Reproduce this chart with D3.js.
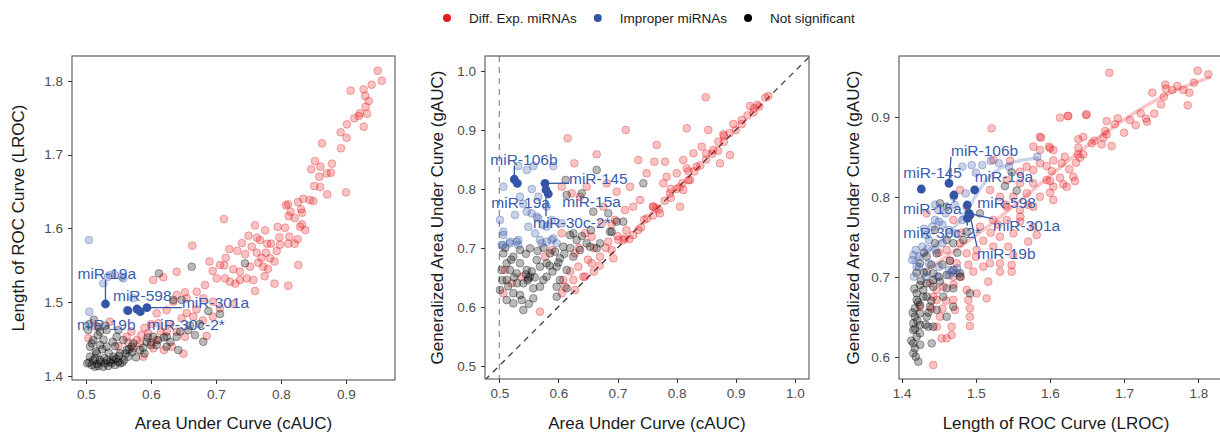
<!DOCTYPE html>
<html lang="en">
<head>
<meta charset="UTF-8">
<title>miRNA ROC metrics</title>
<style>
    body { margin: 0; background: #fff; }
    svg text { font-family: "Liberation Sans", Arial, Helvetica, sans-serif; }
    .axis line { stroke: #333; shape-rendering: crispEdges; }
    .axis text { font-size: 13.5px; fill: #4d4d4d; }
</style>
</head>
<body>
<script src="https://cdn.jsdelivr.net/npm/d3@7"></script>
<script>
// ---- data ----
var legendLabels = ['Diff. Exp. miRNAs', 'Improper miRNAs', 'Not significant']

// panel 1: cAUC (x) vs LROC (y)
var p1Red = [[0.9488,1.8138],[0.955,1.8003],[0.9072,1.7867],[0.9272,1.7886],[0.9395,1.7948],[0.9297,1.7795],[0.9349,1.7727],[0.9303,1.765],[0.9215,1.756],[0.9323,1.7555],[0.9128,1.7493],[0.9195,1.7524],[0.9015,1.7411],[0.9272,1.7379],[0.8918,1.7303],[0.901,1.7229],[0.8631,1.7153],[0.8923,1.7086],[0.8523,1.6913],[0.8785,1.6877],[0.8605,1.6836],[0.8466,1.6801],[0.8703,1.6746],[0.8769,1.6754],[0.8589,1.67],[0.8512,1.6574],[0.8605,1.656],[0.8712,1.6461],[0.9,1.6488],[0.8446,1.6384],[0.8497,1.637],[0.8343,1.6402],[0.8262,1.6357],[0.8108,1.6326],[0.8077,1.6312],[0.8149,1.6225],[0.8308,1.6258],[0.8323,1.6212],[0.8211,1.614],[0.8118,1.6167],[0.76,1.6041],[0.7758,1.5973],[0.7949,1.6018],[0.8062,1.6008],[0.8292,1.6022],[0.8374,1.5977],[0.8323,1.6054],[0.8128,1.5886],[0.7974,1.5878],[0.8257,1.5851],[0.7631,1.5872],[0.7677,1.5841],[0.7789,1.5791],[0.7846,1.5791],[0.7985,1.5777],[0.8112,1.5791],[0.8211,1.5791],[0.7626,1.5669],[0.7769,1.5669],[0.7934,1.5692],
    [0.7123,1.6126],[0.6635,1.5764],[0.7205,1.5719],[0.7328,1.5696],[0.7062,1.5502],[0.7128,1.5498],[0.7266,1.5444],[0.6949,1.5421],[0.7369,1.5411],[0.7523,1.5479],[0.765,1.5533],[0.7728,1.5479],[0.7831,1.5593],[0.8266,1.5502],[0.8112,1.5221],[0.7574,1.5299],[0.7472,1.5321],[0.7369,1.5299],[0.7215,1.5276],[0.7138,1.5321],[0.7011,1.5321],[0.6831,1.5231],[0.6703,1.514],[0.6523,1.5132],[0.6395,1.5095],[0.6343,1.5004],[0.6549,1.505],[0.6805,1.505],[0.6958,1.5004],[0.7062,1.4914],[0.7266,1.4973],[0.6241,1.4891],[0.6087,1.4847],[0.6035,1.5299],[0.619,1.5335],[0.6395,1.5411],[0.6472,1.4779],[0.6651,1.4801],[0.6857,1.4539],[0.6318,1.4394],[0.5882,1.4258],[0.5035,1.4507],[0.5165,1.4665],[0.5369,1.4733],[0.5626,1.4529],[0.5779,1.4484],[0.5958,1.4575],[0.6087,1.4484],[0.6241,1.4597],[0.6523,1.4529],[0.6035,1.4372],[0.5728,1.4372],[0.6395,1.4597],[0.5831,1.444],[0.6112,1.4711],
    [0.745,1.565],[0.755,1.575],[0.74,1.58],[0.77,1.56],[0.78,1.545],[0.79,1.555],[0.75,1.59],[0.69,1.555],[0.715,1.56],[0.73,1.525],[0.76,1.515],[0.775,1.535],[0.79,1.525],
    [0.57,1.46],[0.59,1.465],[0.6,1.47],[0.615,1.46],[0.63,1.47],[0.655,1.485],[0.67,1.49],[0.68,1.475],[0.695,1.48],[0.6,1.445],[0.62,1.435],[0.585,1.455],[0.55,1.44],[0.565,1.445],[0.65,1.43]]
var p1Blue = [[0.5046,1.5841],[0.5051,1.4869],[0.5266,1.5254],[0.5369,1.5366],[0.5446,1.5366],[0.5574,1.5321],[0.5728,1.505],[0.5338,1.5343],[0.5554,1.5343],[0.5631,1.4891]]
var p1Black = [[0.6123,1.5389],[0.6626,1.5479],[0.7446,1.5525],[0.6472,1.5027],[0.6343,1.5027],[0.7062,1.4837],[0.6882,1.4878],[0.6805,1.4461],[0.6677,1.4552],[0.6574,1.462],[0.6395,1.4529],[0.642,1.4349],[0.6241,1.4529],[0.6112,1.4484],[0.6,1.4417],[0.5831,1.4349],[0.5703,1.4394],[0.5626,1.4349],[0.5523,1.4304],[0.542,1.4258],[0.5369,1.419],[0.5292,1.4168],[0.5215,1.4213],[0.5138,1.4236],[0.5062,1.4258],[0.502,1.4168],[0.5088,1.4145],[0.519,1.4132],[0.5266,1.4122],[0.5343,1.4132],[0.5446,1.4145],[0.5523,1.4168],[0.5585,1.4213],[0.542,1.4213],[0.5165,1.4304],[0.5062,1.4394],[0.5215,1.4417],[0.5318,1.4394],[0.5112,1.4484],[0.5215,1.4597],[0.519,1.4665],[0.5035,1.462],[0.5318,1.462],[0.5472,1.4529],[0.5574,1.4484],[0.5728,1.444],[0.5933,1.4461],[0.6087,1.4417],[0.6035,1.4529],[0.6241,1.4394],[0.5138,1.4122],[0.5497,1.419],[0.5651,1.4258],
    [0.505,1.418],[0.511,1.421],[0.517,1.416],[0.523,1.419],[0.528,1.424],[0.533,1.421],[0.539,1.417],[0.546,1.423],[0.551,1.427],[0.556,1.418],[0.561,1.43],[0.566,1.436],[0.571,1.432],[0.515,1.433],[0.525,1.436],[0.535,1.431],[0.545,1.44],[0.509,1.444],[0.527,1.449],[0.541,1.446],[0.588,1.438],[0.595,1.452],[0.62,1.452],[0.63,1.446],[0.645,1.46],[0.66,1.468],[0.675,1.47],[0.59,1.43],[0.577,1.425],[0.518,1.455],[0.55,1.462],[0.505,1.47],[0.512,1.476],[0.53,1.468]]
var p1Named = [{name:'miR-19a',x:0.53,y:1.4973},{name:'miR-598',x:0.5785,y:1.4905},{name:'miR-301a',x:0.5938,y:1.4923},{name:'miR-19b',x:0.5646,y:1.4882},{name:'miR-30c-2*',x:0.5836,y:1.4869}]

// panel 2: cAUC (x) vs gAUC (y)
var p2Red = [[0.8492,0.9557],[0.9552,0.9579],[0.931,0.937],[0.9242,0.941],[0.9366,0.9426],[0.9102,0.9171],[0.8959,0.9104],[0.879,0.8929],[0.8536,0.9002],[0.8171,0.9031],[0.7139,0.9002],[0.6157,0.8861],[0.6648,0.8589],[0.6269,0.8436],[0.7352,0.8492],[0.7663,0.8747],[0.7623,0.8464],[0.7804,0.8464],[0.8113,0.8492],[0.8283,0.8606],[0.8425,0.8718],[0.8621,0.8662],[0.8706,0.8803],[0.8171,0.8351],[0.8002,0.8267],[0.7832,0.8209],[0.7494,0.8267],[0.7212,0.8039],[0.6986,0.7954],[0.6817,0.8097],[0.6479,0.8039],[0.6365,0.7869],[0.676,0.77],[0.7267,0.77],[0.7381,0.7813],[0.7775,0.8097],[0.7888,0.7927],[0.8113,0.7983],[0.8227,0.8153],[0.8058,0.77],[0.7719,0.7587],[0.7606,0.77],[0.834,0.8379],[0.8734,0.8436],[0.8904,0.8577],
    [0.72,0.715],[0.74,0.735],[0.75,0.75],[0.76,0.755],[0.77,0.765],[0.78,0.78],[0.79,0.785],[0.8,0.8],[0.81,0.81],[0.82,0.815],[0.83,0.83],[0.84,0.84],[0.85,0.85],[0.86,0.86],[0.87,0.865],[0.88,0.88],[0.9,0.9],[0.91,0.91],[0.93,0.93],[0.94,0.94],[0.95,0.955],[0.76,0.77],[0.79,0.8],[0.82,0.83],[0.85,0.86],[0.88,0.89],[0.92,0.925],[0.89,0.895],[0.745,0.748],[0.765,0.768],[0.805,0.803],
    [0.6056,0.8039],[0.6225,0.7927],[0.7127,0.7643],[0.6958,0.7474],[0.6733,0.7418],[0.645,0.7248],[0.6563,0.719],[0.7127,0.7163],[0.7014,0.7134],[0.7352,0.7304],[0.6902,0.6964],[0.6704,0.6851],[0.6563,0.6739],[0.6337,0.6681],[0.645,0.6511],[0.6252,0.6455],[0.6112,0.6341],[0.6056,0.6229],[0.5887,0.6964],[0.5773,0.6851],[0.6281,0.6908],[0.5096,0.6625],[0.521,0.6399],[0.5379,0.6511],[0.5689,0.5917],[0.5068,0.623],[0.6281,0.6285],[0.6421,0.6511],[0.6083,0.6455],[0.6929,0.6823],[0.6844,0.7105],[0.7098,0.7134],[0.7267,0.7219],[0.6056,0.7248],
    [0.66,0.7],[0.68,0.7],[0.7,0.72],[0.715,0.73],[0.69,0.74],[0.62,0.66],[0.635,0.7],[0.65,0.68],[0.67,0.67],[0.66,0.66]]
var p2Blue = [[0.5322,0.839],[0.5575,0.839],[0.5914,0.839],[0.5464,0.8323],[0.5068,0.8039],[0.535,0.7869],[0.5266,0.7559],[0.5012,0.7474],[0.566,0.7869],[0.5802,0.77],[0.5745,0.7389],[0.5633,0.753],[0.5491,0.736],[0.5068,0.7275],[0.5181,0.7105],[0.5322,0.7134],[0.5604,0.7248],[0.5689,0.7134],[0.5802,0.736],[0.5887,0.7134],[0.5971,0.7078],[0.566,0.7503],[0.5887,0.7474],[0.6056,0.7418],[0.5464,0.7615],[0.5322,0.7049],[0.5068,0.7049],[0.504,0.7049],[0.5181,0.7078],[0.5294,0.7105],[0.5717,0.7078],[0.5802,0.7105],[0.5914,0.7163],[0.5068,0.7219],[0.54,0.775],[0.555,0.8],[0.5548,0.7587]]
var p2Black = [[0.5012,0.6285],[0.5125,0.6455],[0.5181,0.6625],[0.5068,0.6908],[0.5237,0.6851],[0.535,0.6739],[0.5294,0.6569],[0.5464,0.6625],[0.5519,0.6511],[0.5406,0.6399],[0.5237,0.623],[0.5125,0.6115],[0.5237,0.6059],[0.5406,0.5946],[0.5379,0.6115],[0.5575,0.6314],[0.5575,0.6144],[0.5689,0.6341],[0.5745,0.6455],[0.5689,0.6681],[0.5633,0.6795],[0.5858,0.6908],[0.5943,0.6936],[0.5802,0.6739],[0.5971,0.6681],[0.6027,0.6455],[0.5971,0.6341],[0.5971,0.6172],[0.614,0.6314],[0.5802,0.6511],[0.614,0.6625],[0.6252,0.6851],[0.6365,0.6964],[0.6479,0.7078],[0.6648,0.6993],[0.6535,0.702],[0.6704,0.7078],[0.6873,0.7275],[0.6196,0.7219],[0.6309,0.7134],[0.6083,0.702],[0.6027,0.6823],[0.5519,0.6993],[0.535,0.6964],[0.5125,0.6739],[0.504,0.6625],[0.5491,0.6484],
    [0.6648,0.8323],[0.6123,0.8153],[0.614,0.7898],[0.6394,0.7927],[0.659,0.7615],[0.6844,0.7587],[0.6986,0.7445],[0.7098,0.7445],[0.7437,0.8097],[0.6902,0.7275],[0.6252,0.7248],
    [0.515,0.635],[0.525,0.65],[0.53,0.64],[0.545,0.655],[0.555,0.66],[0.548,0.645],[0.56,0.65],[0.535,0.62],[0.52,0.68],[0.545,0.69],[0.565,0.695],[0.575,0.7],[0.585,0.67],[0.59,0.66],[0.6,0.675],[0.61,0.69],[0.62,0.7],[0.64,0.72],[0.655,0.73],[0.51,0.7],[0.505,0.645],[0.55,0.605]]
var p2Named = [{name:'miR-106b',x:0.5254,y:0.8165},{name:'miR-19a',x:0.5305,y:0.8097},{name:'miR-145',x:0.5773,y:0.8097},{name:'miR-15a',x:0.5829,y:0.7915},{name:'miR-30c-2*',x:0.579,y:0.7985}]

// panel 3: LROC (x) vs gAUC (y)
var p3Red = [[1.68,0.955],[1.7992,0.9575],[1.8135,0.953],[1.7942,0.9425],[1.7555,0.94],[1.7564,0.935],[1.7649,0.9334],[1.7717,0.9384],[1.7798,0.9334],[1.7879,0.93],[1.738,0.93],[1.7537,0.925],[1.7497,0.9155],[1.7857,0.9143],[1.7407,0.9038],[1.7223,0.9042],[1.7295,0.8975],[1.7308,0.8938],[1.7079,0.8959],[1.7156,0.8896],[1.6913,0.898],[1.6877,0.8905],[1.6765,0.8946],[1.6495,0.903],[1.6239,0.9009],[1.6135,0.8988],[1.6742,0.8821],[1.6765,0.878],[1.6719,0.8738],[1.6449,0.8746],[1.6382,0.8718],[1.6832,0.8634],[1.6697,0.8655],[1.6562,0.8668],[1.6382,0.8613],[1.5987,0.8625],[1.6045,0.8584],[1.5879,0.8738],[1.6374,0.853],[1.6449,0.853],[1.6405,0.8488],[1.6351,0.8425],[1.6158,0.8418],[1.6045,0.8455],[1.626,0.8343],[1.6023,0.8321],[1.5955,0.8384],[1.6135,0.8238],[1.6,0.8196],[1.6337,0.8196],[1.6179,0.8155],
    [1.5214,0.8855],[1.5865,0.875],[1.6247,0.9009],[1.6485,0.9021],[1.5775,0.8625],[1.5865,0.8584],[1.6,0.8605],[1.5235,0.8459],[1.5461,0.845],[1.5686,0.8375],[1.5865,0.8418],[1.5775,0.8334],[1.5595,0.8313],[1.5416,0.8209],[1.5595,0.8168],[1.5775,0.8168],[1.5955,0.8209],[1.6045,0.8125],[1.6225,0.8125],[1.6314,0.825],[1.5191,0.8084],[1.5326,0.8],[1.5505,0.8],[1.5686,0.8042],[1.5865,0.8],[1.6045,0.7959],[1.5416,0.7875],[1.5595,0.7834],[1.5775,0.7875],[1.5235,0.7709],[1.5416,0.7709],[1.5595,0.7688],[1.5775,0.7625],[1.4786,0.8084],[1.4696,0.7709],[1.4337,0.7792],[1.4877,0.7875],[1.5056,0.7625],
    [1.5326,0.75],[1.5235,0.7375],[1.5505,0.7542],[1.5821,0.7521],[1.5707,0.7438],[1.5437,0.7375],[1.5505,0.7271],[1.5326,0.7167],[1.5483,0.7146],[1.5326,0.7063],[1.5483,0.7063],[1.5191,0.7167],[1.5101,0.7125],[1.4966,0.7063],[1.5168,0.6938],[1.5011,0.6792],[1.5146,0.673],[1.4877,0.6834],[1.4899,0.6709],[1.4921,0.6605],[1.4921,0.65],[1.4921,0.6384],[1.4696,0.6709],[1.4719,0.6584],[1.4674,0.6375],[1.4674,0.6271],[1.4539,0.623],[1.4607,0.623],[1.4426,0.5896],[1.4472,0.6375],[1.4517,0.65],[1.4472,0.6834],[1.4561,0.6875],[1.4742,0.7167],[1.4696,0.7],[1.4877,0.7292],[1.5011,0.7334],[1.4786,0.7418],[1.4607,0.7334],[1.4426,0.675],[1.4247,0.6625],[1.4382,0.6918],[1.4472,0.6709],
    [1.455,0.66],[1.46,0.67],[1.47,0.69],[1.48,0.7],[1.49,0.715],[1.5,0.725],[1.51,0.745],[1.52,0.755],[1.53,0.765],[1.44,0.66],[1.465,0.72],[1.48,0.755],[1.45,0.73],[1.56,0.775],[1.54,0.79],[1.57,0.79],[1.6,0.805],[1.62,0.85],[1.66,0.87],[1.7,0.88]]
var p3Blue = [[1.4233,0.725],[1.4278,0.7375],[1.4368,0.7459],[1.4459,0.7334],[1.4548,0.7418],[1.4233,0.7125],[1.4368,0.7167],[1.4503,0.7125],[1.4638,0.7084],[1.4413,0.7625],[1.4503,0.7688],[1.4638,0.7584],[1.4728,0.7542],[1.4593,0.7792],[1.4817,0.7709],[1.4863,0.8042],[1.5087,0.8396],[1.5312,0.8418],[1.5447,0.8375],[1.5829,0.85],[1.4817,0.8375],[1.4189,0.7334],[1.4143,0.7209],[1.4166,0.7],[1.4324,0.7],[1.448,0.7],[1.4638,0.7021],[1.475,0.7105],[1.4944,0.8396],[1.4719,0.7896],[1.4494,0.7834],[1.4449,0.7709],[1.4337,0.7521],[1.4157,0.7271],[1.4202,0.7125],[1.4674,0.7063],[1.4742,0.7042],
    [1.43,0.76],[1.445,0.79],[1.47,0.8],[1.5,0.83],[1.52,0.845],[1.435,0.735],[1.455,0.765]]
var p3Black = [[1.4224,0.5938],[1.4157,0.6042],[1.4179,0.6104],[1.4157,0.6167],[1.4202,0.625],[1.4247,0.6292],[1.4157,0.6334],[1.4157,0.6418],[1.4247,0.6396],[1.4179,0.65],[1.4247,0.6542],[1.4179,0.6605],[1.4247,0.6646],[1.4202,0.6709],[1.4292,0.675],[1.4202,0.6792],[1.4292,0.6834],[1.4247,0.6896],[1.4337,0.6918],[1.4426,0.6959],[1.4517,0.6938],[1.4426,0.6875],[1.4337,0.675],[1.4382,0.6625],[1.4337,0.65],[1.4359,0.6375],[1.4426,0.6375],[1.4405,0.6167],[1.4607,0.65],[1.4472,0.6584],[1.4561,0.675],[1.4607,0.6855],[1.4696,0.6855],[1.4696,0.6625],[1.4921,0.6792],[1.4786,0.7042],[1.4786,0.7],[1.4696,0.7084],[1.4607,0.7021],[1.4426,0.7042],[1.4337,0.7063],[1.4247,0.7167],[1.4337,0.725],[1.4472,0.7292],[1.4449,0.7418],[1.4607,0.7459],[1.4696,0.7418],[1.4831,0.7459],[1.4877,0.7563],[1.4517,0.7917],[1.4607,0.7875],[1.5056,0.7792],[1.5393,0.8134],[1.5483,0.8305],[1.5551,0.8076],[1.4449,0.7584],
    [1.413,0.62],[1.418,0.635],[1.421,0.645],[1.415,0.655],[1.422,0.668],[1.417,0.685],[1.426,0.695],[1.43,0.705],[1.44,0.715],[1.419,0.6],[1.425,0.615],[1.432,0.64],[1.436,0.655],[1.44,0.67],[1.45,0.7],[1.455,0.715],[1.465,0.72],[1.475,0.73],[1.42,0.705],[1.43,0.73]]
var p3Named = [{name:'miR-145',x:1.4265,y:0.8096},{name:'miR-106b',x:1.4638,y:0.8168},{name:'miR-15a',x:1.4705,y:0.8021},{name:'miR-19a',x:1.4984,y:0.8084},{name:'miR-598',x:1.4885,y:0.7896},{name:'miR-301a',x:1.4908,y:0.7792},{name:'miR-30c-2*',x:1.4885,y:0.773},{name:'miR-19b',x:1.4921,y:0.7768}]
var p3RedTrend = [[1.44,0.712],[1.48,0.738],[1.52,0.765],[1.56,0.795],[1.6,0.826],[1.64,0.857],[1.68,0.884],[1.72,0.909],[1.76,0.93],[1.8,0.944],[1.815,0.949]]
var p3BlueTrend = [[1.415,0.718],[1.43,0.728],[1.455,0.746],[1.475,0.765],[1.49,0.785],[1.505,0.81],[1.52,0.828],[1.54,0.84],[1.56,0.846],[1.583,0.848]]

// ---- style / layout ----
var width = 1220, height = 434
var cRed = '#e41a1c', cBlue = '#3455a8', cBlack = '#000000'
var labelBlue = '#3a5caf'

var svg = d3.select('body').append('svg')
    .attr('width', width)
    .attr('height', height)

// label offsets in pixels from the point: [dx, dy, draw segment]
var labelNudge = {
    p1: {'miR-19a': [-28,-30,true], 'miR-598': [-24,-13,false], 'miR-301a': [35,-5,true], 'miR-19b': [-51,14,false], 'miR-30c-2*': [7,13,false]},
    p2: {'miR-106b': [-24,-20,true], 'miR-19a': [-26,19,false], 'miR-145': [24,-5,true], 'miR-15a': [14,8,false], 'miR-30c-2*': [-13,33,true]},
    p3: {'miR-145': [-18,-16,false], 'miR-106b': [2,-33,true], 'miR-15a': [-51,14,true], 'miR-19a': [0,-13,false], 'miR-598': [10,-2,false], 'miR-301a': [24,12,true], 'miR-30c-2*': [-64,14,true], 'miR-19b': [7,38,true]}
}

var panels = [
    {id: 'p1', left: 72, right: 395, top: 56, bottom: 380,
     xDomain: [0.4785, 0.9754], yDomain: [1.3942, 1.8338],
     xTicks: [0.5,0.6,0.7,0.8,0.9], yTicks: [1.4,1.5,1.6,1.7,1.8],
     xTitle: 'Area Under Curve (cAUC)', yTitle: 'Length of ROC Curve (LROC)', yTitleX: 18,
     red: p1Red, blue: p1Blue, black: p1Black, named: p1Named},
    {id: 'p2', left: 485, right: 809, top: 56, bottom: 379,
     xDomain: [0.4758, 1.024], yDomain: [0.4774, 1.0258],
     xTicks: [0.5,0.6,0.7,0.8,0.9,1.0], yTicks: [0.5,0.6,0.7,0.8,0.9,1.0],
     xTitle: 'Area Under Curve (cAUC)', yTitle: 'Generalized Area Under Curve (gAUC)', yTitleX: 437,
     red: p2Red, blue: p2Blue, black: p2Black, named: p2Named, refLines: true},
    {id: 'p3', left: 899, right: 1221, top: 56, bottom: 379,
     xDomain: [1.3964, 1.8306], yDomain: [0.5721, 0.9759],
     xTicks: [1.4,1.5,1.6,1.7,1.8], yTicks: [0.6,0.7,0.8,0.9],
     xTitle: 'Length of ROC Curve (LROC)', yTitle: 'Generalized Area Under Curve (gAUC)', yTitleX: 853, titleCx: 1056,
     red: p3Red, blue: p3Blue, black: p3Black, named: p3Named,
     trends: [[p3RedTrend, cRed], [p3BlueTrend, cBlue]]}
]

panels.forEach(drawPanel)
drawLegend()

function drawPanel(p) {
    var x = d3.scaleLinear().domain(p.xDomain).range([p.left, p.right])
    var y = d3.scaleLinear().domain(p.yDomain).range([p.bottom, p.top])

    svg.append('clipPath').attr('id', 'clip-' + p.id)
        .append('rect')
        .attr('x', p.left).attr('y', p.top)
        .attr('width', p.right - p.left).attr('height', p.bottom - p.top)

    var plot = svg.append('g').attr('clip-path', 'url(#clip-' + p.id + ')')

    if (p.refLines) {
        // vertical at cAUC = 0.5
        plot.append('line')
            .attr('x1', x(0.5)).attr('x2', x(0.5))
            .attr('y1', p.top).attr('y2', p.bottom)
            .attr('stroke', '#8c8c8c').attr('stroke-width', 1.2)
            .attr('stroke-dasharray', '6,5')
        // identity line
        var lo = Math.min(p.xDomain[0], p.yDomain[0]), hi = Math.max(p.xDomain[1], p.yDomain[1])
        plot.append('line')
            .attr('x1', x(lo)).attr('y1', y(lo))
            .attr('x2', x(hi)).attr('y2', y(hi))
            .attr('stroke', '#333').attr('stroke-width', 1.3)
            .attr('stroke-dasharray', '6,5')
    }

    var line = d3.line().curve(d3.curveBasis).x(d => x(d[0])).y(d => y(d[1]))
    if (p.trends) {
        p.trends.forEach(function (t) {
            plot.append('path')
                .attr('d', line(t[0]))
                .attr('fill', 'none')
                .attr('stroke', t[1])
                .attr('stroke-opacity', 0.25)
                .attr('stroke-width', 3.5)
                .attr('stroke-linecap', 'round')
        })
    }

    function dots(data, col) {
        plot.append('g').selectAll('circle')
            .data(data)
            .enter()
            .append('circle')
            .attr('cx', d => x(d[0]))
            .attr('cy', d => y(d[1]))
            .attr('r', 3.9)
            .attr('fill', col)
            .attr('fill-opacity', 0.27)
            .attr('stroke', col)
            .attr('stroke-opacity', 0.32)
            .attr('stroke-width', 1)
    }
    dots(p.red, cRed)
    dots(p.black, cBlack)
    dots(p.blue, cBlue)

    // labelled miRNAs
    var nudges = labelNudge[p.id]
    var lab = svg.append('g')
    p.named.forEach(function (d) {
        var px = x(d.x), py = y(d.y), n = nudges[d.name]
        var t = lab.append('text')
            .attr('x', px + n[0])
            .attr('y', py + n[1])
            .attr('dy', '0.35em')
            .attr('fill', labelBlue)
            .attr('font-size', 15.5)
            .text(d.name)
        if (n[2]) {
            var b = t.node().getBBox()
            var ex = Math.max(b.x, Math.min(px, b.x + b.width))
            var ey = Math.max(b.y + 2, Math.min(py, b.y + b.height - 2))
            lab.insert('line', 'text')
                .attr('x1', px).attr('y1', py)
                .attr('x2', ex).attr('y2', ey)
                .attr('stroke', cBlue).attr('stroke-width', 1.3)
        }
    })
    plot.append('g').selectAll('circle')
        .data(p.named)
        .enter()
        .append('circle')
        .attr('cx', d => x(d.x))
        .attr('cy', d => y(d.y))
        .attr('r', 4.4)
        .attr('fill', cBlue)

    // frame
    svg.append('rect')
        .attr('x', p.left).attr('y', p.top)
        .attr('width', p.right - p.left).attr('height', p.bottom - p.top)
        .attr('fill', 'none')
        .attr('stroke', '#555').attr('stroke-width', 1.1)

    var fmt = d3.format('.1f')
    var xAxis = d3.axisBottom(x).tickValues(p.xTicks).tickFormat(fmt).tickSize(4).tickPadding(5)
    var yAxis = d3.axisLeft(y).tickValues(p.yTicks).tickFormat(fmt).tickSize(4).tickPadding(5)
    svg.append('g').attr('class', 'axis')
        .attr('transform', 'translate(0,' + p.bottom + ')')
        .call(xAxis)
        .call(g => g.select('.domain').remove())
    svg.append('g').attr('class', 'axis')
        .attr('transform', 'translate(' + p.left + ',0)')
        .call(yAxis)
        .call(g => g.select('.domain').remove())

    svg.append('text')
        .attr('x', p.titleCx || (p.left + p.right) / 2)
        .attr('y', 429)
        .attr('text-anchor', 'middle')
        .attr('font-size', 17)
        .attr('fill', '#1a1a1a')
        .text(p.xTitle)
    svg.append('text')
        .attr('transform', 'translate(' + p.yTitleX + ',' + (p.top + p.bottom) / 2 + ') rotate(-90)')
        .attr('dy', '0.35em')
        .attr('text-anchor', 'middle')
        .attr('font-size', 17)
        .attr('fill', '#1a1a1a')
        .text(p.yTitle)
}

function drawLegend() {
    var cols = [cRed, cBlue, cBlack]
    var lx = 447
    legendLabels.forEach(function (name, i) {
        svg.append('circle')
            .attr('cx', lx).attr('cy', 18).attr('r', 4)
            .attr('fill', cols[i])
        var t = svg.append('text')
            .attr('x', lx + 22).attr('y', 18)
            .attr('dy', '0.35em')
            .attr('font-size', 13.5)
            .attr('fill', '#1a1a1a')
            .text(name)
        lx = lx + 22 + t.node().getComputedTextLength() + 21
    })
}
</script>
</body>
</html>
